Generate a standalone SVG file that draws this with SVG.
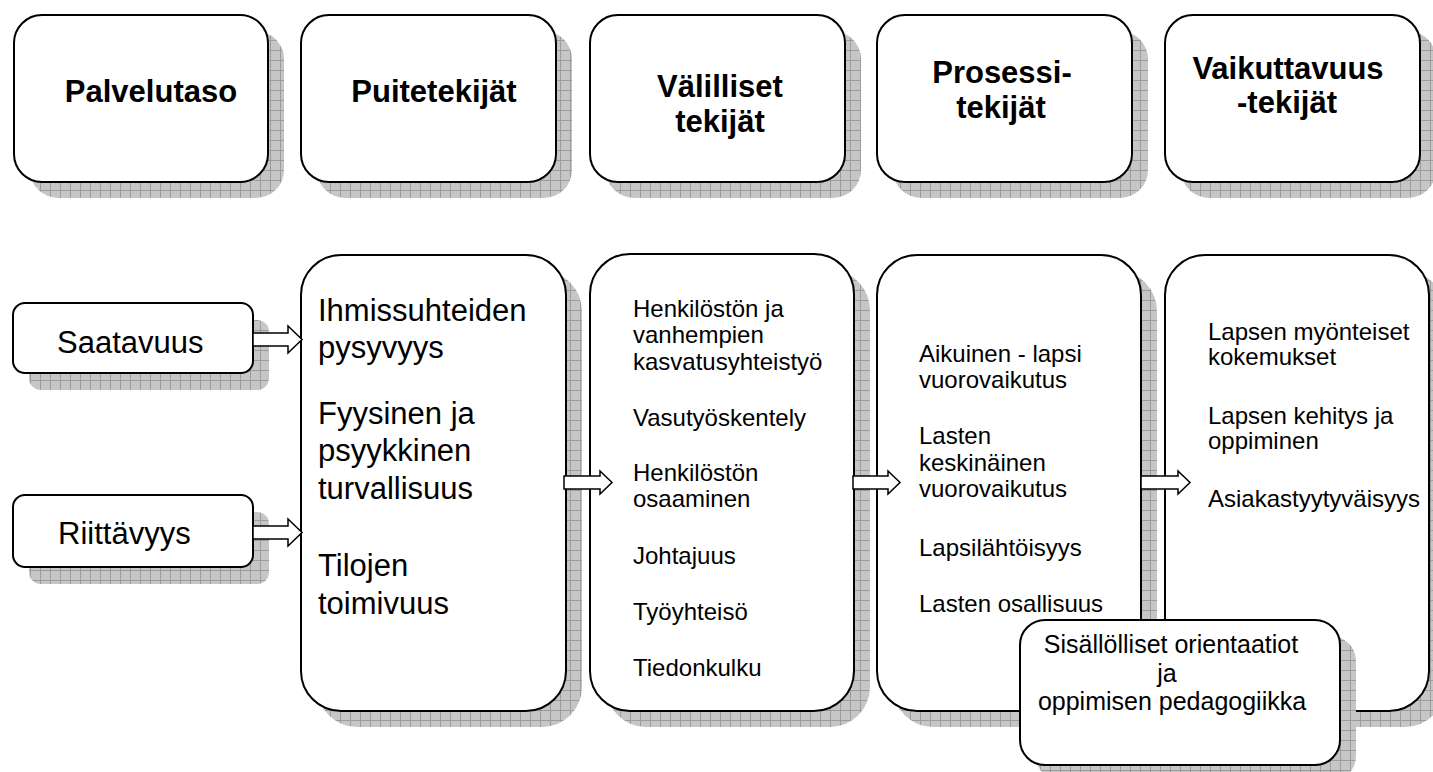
<svg xmlns="http://www.w3.org/2000/svg" width="1433" height="772" viewBox="0 0 1433 772">
<defs>
<pattern id="grid" width="10" height="10" patternUnits="userSpaceOnUse">
<rect width="10" height="10" fill="#c6c6c6"/>
<path d="M0 0.5H10M0.5 0V10" stroke="#9c9c9c" stroke-width="1" fill="none"/>
</pattern>
</defs>
<style>
.sh{fill:url(#grid);stroke:none}
.bx{fill:#fff;stroke:#000;stroke-width:2}
.hd{font-family:"Liberation Sans",Arial,sans-serif;font-weight:bold;font-size:31px;fill:#000;text-anchor:middle}
.lg{font-family:"Liberation Sans",Arial,sans-serif;font-size:31px;fill:#000}
.sm{font-family:"Liberation Sans",Arial,sans-serif;font-size:24px;fill:#000}
.ct{font-family:"Liberation Sans",Arial,sans-serif;font-size:25px;fill:#000;text-anchor:middle}
.ar{fill:#fff;stroke:#000;stroke-width:1.5;stroke-linejoin:miter}
</style>
<rect width="1433" height="772" fill="#fff"/>

<g id="h-palvelutaso">
<rect class="sh" x="30" y="31" width="254" height="167" rx="28"/>
<rect class="bx" x="14" y="15" width="254" height="167" rx="28"/>
<text class="hd" x="151" y="102">Palvelutaso</text>
</g>
<g id="h-puitetekijat">
<rect class="sh" x="317" y="31" width="255" height="167" rx="28"/>
<rect class="bx" x="301" y="15" width="255" height="167" rx="28"/>
<text class="hd" x="434" y="102">Puitetekijät</text>
</g>
<g id="h-valilliset">
<rect class="sh" x="606" y="31" width="255" height="167" rx="28"/>
<rect class="bx" x="590" y="15" width="255" height="167" rx="28"/>
<text class="hd" x="720" y="97">Välilliset</text>
<text class="hd" x="720" y="132">tekijät</text>
</g>
<g id="h-prosessi">
<rect class="sh" x="893" y="31" width="255" height="167" rx="28"/>
<rect class="bx" x="877" y="15" width="255" height="167" rx="28"/>
<text class="hd" x="1002" y="83">Prosessi-</text>
<text class="hd" x="1001" y="118">tekijät</text>
</g>
<g id="h-vaikuttavuus">
<rect class="sh" x="1181" y="31" width="255" height="167" rx="28"/>
<rect class="bx" x="1165" y="15" width="255" height="167" rx="28"/>
<text class="hd" x="1288" y="79">Vaikuttavuus</text>
<text class="hd" x="1287" y="113">-tekijät</text>
</g>

<g id="saatavuus">
<rect class="sh" x="29" y="320" width="240" height="70" rx="12"/>
<rect class="bx" x="13" y="303" width="240" height="70" rx="12"/>
<text class="lg" x="57" y="353">Saatavuus</text>
</g>
<g id="riittavyys">
<rect class="sh" x="29" y="512" width="240" height="72" rx="12"/>
<rect class="bx" x="13" y="495" width="240" height="72" rx="12"/>
<text class="lg" x="58" y="544">Riittävyys</text>
</g>

<g id="b-puite">
<rect class="sh" x="317" y="271" width="265" height="456" rx="40"/>
<rect class="bx" x="301" y="255" width="265" height="456" rx="40"/>
<text class="lg" x="318" y="321">Ihmissuhteiden</text>
<text class="lg" x="318" y="358">pysyvyys</text>
<text class="lg" x="318" y="424">Fyysinen ja</text>
<text class="lg" x="318" y="461">psyykkinen</text>
<text class="lg" x="318" y="499">turvallisuus</text>
<text class="lg" x="318" y="576">Tilojen</text>
<text class="lg" x="318" y="614">toimivuus</text>
</g>
<g id="b-valilliset">
<rect class="sh" x="606" y="270" width="264" height="457" rx="40"/>
<rect class="bx" x="590" y="254" width="264" height="457" rx="40"/>
<text class="sm" x="633" y="317">Henkilöstön ja</text>
<text class="sm" x="633" y="343">vanhempien</text>
<text class="sm" x="633" y="370">kasvatusyhteistyö</text>
<text class="sm" x="633" y="426">Vasutyöskentely</text>
<text class="sm" x="633" y="481">Henkilöstön</text>
<text class="sm" x="633" y="507">osaaminen</text>
<text class="sm" x="633" y="564">Johtajuus</text>
<text class="sm" x="633" y="620">Työyhteisö</text>
<text class="sm" x="633" y="676">Tiedonkulku</text>
</g>
<g id="b-prosessi">
<rect class="sh" x="893" y="271" width="264" height="456" rx="40"/>
<rect class="bx" x="877" y="255" width="264" height="456" rx="40"/>
<text class="sm" x="919" y="362">Aikuinen - lapsi</text>
<text class="sm" x="919" y="388">vuorovaikutus</text>
<text class="sm" x="919" y="444">Lasten</text>
<text class="sm" x="919" y="471">keskinäinen</text>
<text class="sm" x="919" y="497">vuorovaikutus</text>
<text class="sm" x="919" y="556">Lapsilähtöisyys</text>
<text class="sm" x="919" y="612">Lasten osallisuus</text>
</g>
<g id="b-vaikuttavuus">
<rect class="sh" x="1181" y="271" width="264" height="456" rx="40"/>
<rect class="bx" x="1165" y="255" width="264" height="456" rx="40"/>
<text class="sm" x="1208" y="340">Lapsen myönteiset</text>
<text class="sm" x="1208" y="365">kokemukset</text>
<text class="sm" x="1208" y="424">Lapsen kehitys ja</text>
<text class="sm" x="1208" y="449">oppiminen</text>
<text class="sm" x="1208" y="507">Asiakastyytyväisyys</text>
</g>
<g id="sisallolliset">
<rect class="sh" x="1036" y="636" width="320" height="145" rx="25"/>
<rect class="bx" x="1020" y="620" width="320" height="145" rx="25"/>
<text class="ct" x="1171" y="653">Sisällölliset orientaatiot</text>
<text class="ct" x="1167" y="682">ja</text>
<text class="ct" x="1172" y="710">oppimisen pedagogiikka</text>
</g>

<g id="connectors">
<path class="ar" d="M253 333H288V326L302 339.5L288 353V346H253Z"/>
<path class="ar" d="M253 526H288V519L302 532.5L288 546V539H253Z"/>
<path class="ar" d="M564 476H600V471L612 482.5L600 494V489H564Z"/>
<path class="ar" d="M853 476H888V471L900 482.5L888 494V489H853Z"/>
<path class="ar" d="M1141 476H1178V471L1190 482.5L1178 494V489H1141Z"/>
</g>
</svg>
